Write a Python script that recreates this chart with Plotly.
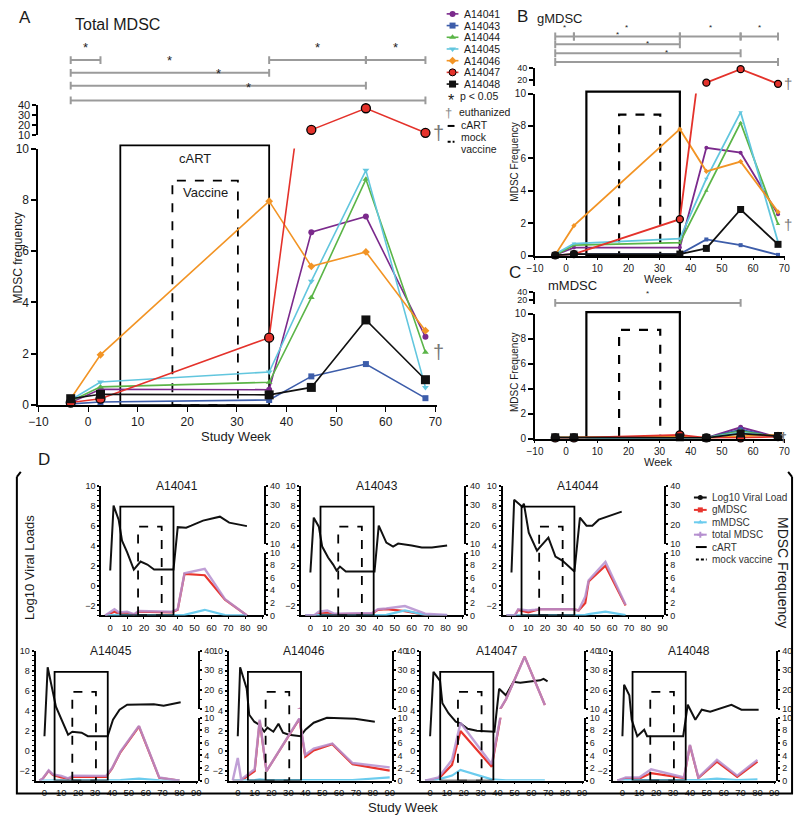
import plotly.graph_objects as go

W, H = 800, 823
FONT = "Liberation Sans, Arial, Helvetica, sans-serif"


def fx(x):
    return x / W


def fy(y):
    return 1 - y / H


# ====================== DATA : panels A-C ======================
WEEKS = [-3.5, 2.5, 36.5, 45, 56, 68]
ANIMALS = ["A14041", "A14043", "A14044", "A14045", "A14046", "A14047", "A14048"]

# total MDSC (panel A)
TOTAL_A14041 = [0.10, 0.62, 0.60, 6.74, 7.35, 2.66]
TOTAL_A14043 = [0.05, 0.12, 0.20, 1.12, 1.60, 0.27]
TOTAL_A14044 = [0.15, 0.71, 0.89, 4.19, 8.80, 2.06]
TOTAL_A14045 = [0.20, 0.90, 1.29, 4.83, 9.15, 0.69]
TOTAL_A14046 = [0.25, 1.96, 7.95, 5.41, 5.97, 2.90]
TOTAL_A14047 = [0.10, 0.25, 2.63, 15.0, 37.0, 12.0]
TOTAL_A14048 = [0.25, 0.42, 0.40, 0.69, 3.32, 0.99]

# gMDSC (panel B)
GMDSC_A14041 = [0.05, 0.50, 0.50, 6.65, 6.35, 2.55]
GMDSC_A14043 = [0.02, 0.10, 0.10, 1.00, 0.65, 0.05]
GMDSC_A14044 = [0.05, 0.65, 0.80, 4.00, 8.20, 1.95]
GMDSC_A14045 = [0.10, 0.75, 1.05, 4.75, 8.85, 0.85]
GMDSC_A14046 = [0.05, 1.85, 7.80, 5.20, 5.80, 2.70]
GMDSC_A14047 = [0.02, 0.10, 2.25, 15.0, 38.0, 13.0]
GMDSC_A14048 = [0.02, 0.10, 0.10, 0.45, 2.85, 0.70]

# mMDSC (panel C)
MMDSC_A14041 = [0.05, 0.05, 0.05, 0.05, 0.90, 0.10]
MMDSC_A14043 = [0.02, 0.02, 0.05, 0.05, 0.70, 0.10]
MMDSC_A14044 = [0.05, 0.05, 0.10, 0.05, 0.60, 0.10]
MMDSC_A14045 = [0.05, 0.05, 0.10, 0.05, 0.50, 0.10]
MMDSC_A14046 = [0.10, 0.10, 0.15, 0.05, 0.20, 0.30]
MMDSC_A14047 = [0.05, 0.05, 0.30, 0.05, 0.05, 0.15]
MMDSC_A14048 = [0.10, 0.10, 0.10, 0.05, 0.40, 0.20]

CART_WEEKS = [6.5, 36.5]
VACCINE_WEEKS = [17, 30.2]
EUTHANIZED = ["A14044", "A14047"]

# significance comparisons (start week, end week, row)
SIG_A = [(-3.5, 2.5, 0), (36.5, 56, 0), (56, 68, 0), (-3.5, 36.5, 1), (-3.5, 56, 2), (-3.5, 68, 3)]
SIG_B = [(-3.5, 2.5, 0), (2.5, 36.5, 0), (36.5, 56, 0), (56, 68, 0),
         (-3.5, 36.5, 1), (-3.5, 56, 2), (-3.5, 68, 3)]
SIG_C = [(-3.5, 56, 0)]

X_TICKS_ABC = [-10, 0, 10, 20, 30, 40, 50, 60, 70]

# ====================== DATA : panel D ======================
VL_WEEK_A14041 = [0, 2, 5, 7, 10, 14, 18, 22, 26, 37.5, 40, 45, 48, 55, 65, 70.5, 81]
VL_A14041 = [1.5, 8.0, 6.6, 4.5, 3.35, 1.6, 2.4, 2.1, 1.6, 1.6, 5.85, 5.8, 6.0, 6.5, 6.9, 6.3, 5.95]
MD_WEEK_A14041 = [-3, 2.5, 5, 10, 14, 17, 36.5, 40, 44, 56, 68, 81]
T_A14041 = [0, 1.0, 0.5, 0.6, 0.2, 0.7, 0.6, 1.0, 6.7, 7.4, 2.6, 0.0]
G_A14041 = [0, 0.6, 0.3, 0.4, 0.1, 0.6, 0.5, 0.9, 6.6, 6.4, 2.5, 0.0]
M_A14041 = [0, 0.1, 0.1, 0.1, 0.05, 0.05, 0.05, 0.05, 0.1, 0.9, 0.05, 0.0]

VL_WEEK_A14043 = [0, 2, 5, 7, 10.5, 13.5, 15.5, 17.5, 21, 38, 40.5, 45, 49, 52, 60, 66, 72, 81]
VL_A14043 = [1.3, 6.8, 5.9, 3.9, 2.8, 2.1, 1.5, 1.9, 1.4, 1.4, 6.0, 4.3, 3.9, 4.2, 4.0, 3.8, 3.8, 4.0]
MD_WEEK_A14043 = [-3, 2.5, 5, 10, 14, 17, 36.5, 40, 45, 56, 68, 81]
T_A14043 = [0, 0.1, 0.6, 0.8, 0.3, 0.3, 0.4, 1.0, 1.1, 1.5, 0.3, 0.1]
G_A14043 = [0, 0.05, 0.3, 0.4, 0.1, 0.2, 0.3, 0.9, 1.0, 0.7, 0.1, 0.05]
M_A14043 = [0, 0.05, 0.1, 0.1, 0.05, 0.05, 0.05, 0.1, 0.1, 0.8, 0.1, 0.05]

VL_WEEK_A14044 = [0, 1.6, 6.4, 7.4, 10.3, 15.2, 16.7, 22, 26.2, 30.3, 37.5, 40.8, 44.7, 48.2, 52, 65.7]
VL_A14044 = [1.3, 8.6, 7.9, 8.2, 5.3, 3.5, 3.8, 4.8, 2.9, 2.5, 1.4, 6.8, 6.0, 6.0, 6.6, 7.4]
MD_WEEK_A14044 = [-3, 2, 4, 10, 14, 17, 36.5, 40, 44, 46, 56, 68]
T_A14044 = [0, 0.05, 1.0, 0.8, 0.9, 1.0, 1.0, 0.8, 3.0, 5.6, 8.5, 1.7]
G_A14044 = [0, 0.0, 0.9, 0.5, 0.8, 1.0, 1.0, 0.8, 2.0, 5.4, 7.9, 1.6]
M_A14044 = [0, 0.02, 0.05, 0.05, 0.05, 0.05, 0.05, 0.05, 0.1, 0.2, 0.6, 0.05]

VL_WEEK_A14045 = [0, 1.9, 6.8, 14, 16.5, 22, 25.7, 37.4, 40.6, 44.5, 49, 64.8, 70.6, 80.7]
VL_A14045 = [1.45, 8.35, 4.4, 1.6, 1.9, 1.8, 1.45, 1.45, 3.1, 4.1, 4.6, 4.65, 4.5, 4.85]
MD_WEEK_A14045 = [-3, -1, 2.5, 5, 10, 14, 17, 36.5, 40, 45, 56, 68, 80]
T_A14045 = [0, 0.35, 1.65, 1.0, 0.75, 0.35, 0.8, 0.75, 1.95, 4.6, 8.7, 0.5, 0.0]
G_A14045 = [0, 0.3, 1.55, 0.9, 0.5, 0.3, 0.6, 0.6, 1.9, 4.5, 8.6, 0.45, 0.0]
M_A14045 = [0, 0.02, 0.05, 0.05, 0.05, 0.02, 0.05, 0.05, 0.05, 0.1, 0.3, 0.05, 0.0]

VL_WEEK_A14046 = [0, 1.4, 5.3, 6.8, 9.8, 12.7, 15.7, 17.6, 21.1, 24.1, 26.8, 30.3, 37.2, 40.1, 45, 52.8, 69.5, 81.2]
VL_A14046 = [1.45, 8.35, 6.2, 3.6, 2.9, 2.6, 1.9, 2.3, 1.9, 2.7, 1.8, 1.6, 1.45, 2.1, 2.8, 3.3, 3.2, 2.9]
MD_WEEK_A14046 = [-3, 0, 2, 10, 13, 17, 36.5, 40, 45, 56, 68, 90]
T_A14046 = [0, 3.6, 0.2, 1.8, 9.7, 1.5, 9.9, 4.1, 5.1, 5.9, 2.8, 2.1]
G_A14046 = [0, 0.0, 0.0, 1.5, 9.5, 1.5, 9.8, 3.8, 4.8, 5.8, 2.6, 1.6]
M_A14046 = [0, 0.1, 0.05, 0.1, 0.2, 0.1, 0.1, 0.2, 0.1, 0.1, 0.1, 0.5]

VL_WEEK_A14047 = [0, 2, 5.9, 7.3, 10.9, 15.2, 17.8, 22.3, 27.7, 38.1, 40.9, 44.9, 49.4, 53.4, 65.2, 67.2, 69.6]
VL_A14047 = [1.45, 7.9, 7.0, 4.75, 3.75, 2.9, 2.75, 2.2, 2.0, 1.9, 6.2, 5.55, 6.9, 6.8, 7.05, 7.2, 6.95]
MD_WEEK_A14047 = [-3, 2, 5, 13, 18, 36.5, 45, 56, 68]
T_A14047 = [0, 0.25, 0.5, 3.3, 9.2, 2.6, 15, 37, 12]
G_A14047 = [0, 0.1, 0.3, 2.5, 7.9, 2.2, 15, 37, 12]
M_A14047 = [0, 0.05, 0.2, 0.8, 1.7, 0.2, 0.05, 0.05, 0.05]

VL_WEEK_A14048 = [0, 1, 4.1, 5.5, 8.8, 12.9, 14.6, 36, 38.7, 43.2, 47, 52, 64.6, 70.5, 80.7]
VL_A14048 = [1.45, 6.6, 5.55, 3.1, 1.45, 2.1, 1.45, 1.45, 4.6, 3.1, 4.1, 3.9, 4.6, 4.1, 4.1]
MD_WEEK_A14048 = [-3, 2, 10, 17, 36.5, 40, 45, 56, 68, 80]
T_A14048 = [0, 0.5, 0.5, 1.8, 0.5, 5.7, 0.5, 3.3, 0.8, 3.3]
G_A14048 = [0, 0.3, 0.3, 1.2, 0.4, 5.6, 0.4, 3.0, 0.6, 3.0]
M_A14048 = [0, 0.1, 0.1, 0.1, 0.1, 0.1, 0.1, 0.3, 0.1, 0.2]

CART_WEEKS_D = [6, 37.5]
VACCINE_WEEKS_D = [16.5, 30.5]
X_TICKS_D = [0, 10, 20, 30, 40, 50, 60, 70, 80, 90]

# ---------------- tables built from the named lists ----------------
TOTAL = dict(zip(ANIMALS, [TOTAL_A14041, TOTAL_A14043, TOTAL_A14044, TOTAL_A14045,
                           TOTAL_A14046, TOTAL_A14047, TOTAL_A14048]))
GMDSC = dict(zip(ANIMALS, [GMDSC_A14041, GMDSC_A14043, GMDSC_A14044, GMDSC_A14045,
                           GMDSC_A14046, GMDSC_A14047, GMDSC_A14048]))
MMDSC = dict(zip(ANIMALS, [MMDSC_A14041, MMDSC_A14043, MMDSC_A14044, MMDSC_A14045,
                           MMDSC_A14046, MMDSC_A14047, MMDSC_A14048]))
D_DATA = {
    "A14041": (VL_WEEK_A14041, VL_A14041, MD_WEEK_A14041, G_A14041, M_A14041, T_A14041),
    "A14043": (VL_WEEK_A14043, VL_A14043, MD_WEEK_A14043, G_A14043, M_A14043, T_A14043),
    "A14044": (VL_WEEK_A14044, VL_A14044, MD_WEEK_A14044, G_A14044, M_A14044, T_A14044),
    "A14045": (VL_WEEK_A14045, VL_A14045, MD_WEEK_A14045, G_A14045, M_A14045, T_A14045),
    "A14046": (VL_WEEK_A14046, VL_A14046, MD_WEEK_A14046, G_A14046, M_A14046, T_A14046),
    "A14047": (VL_WEEK_A14047, VL_A14047, MD_WEEK_A14047, G_A14047, M_A14047, T_A14047),
    "A14048": (VL_WEEK_A14048, VL_A14048, MD_WEEK_A14048, G_A14048, M_A14048, T_A14048),
}

# ---------------- styles ----------------
COLORS = {"A14041": "#7b2a8c", "A14043": "#3d5daa", "A14044": "#5bb548", "A14045": "#62c6de",
          "A14046": "#f29425", "A14047": "#e4322b", "A14048": "#111111"}
SYMBOLS = {"A14041": "circle", "A14043": "square", "A14044": "triangle-up", "A14045": "triangle-down",
           "A14046": "diamond", "A14047": "circle", "A14048": "square"}
C_VL, C_G, C_M, C_T = "#111111", "#e8352e", "#6cccee", "#b58fcf"
GRAY = "#9b9b9b"

layout = dict(width=W, height=H, margin=dict(l=0, r=0, t=0, b=0), paper_bgcolor="white",
              plot_bgcolor="rgba(0,0,0,0)", showlegend=False,
              font=dict(family=FONT, color="#1a1a1a", size=11))
traces, shapes, annotations = [], [], []
counters = {"x": 0, "y": 0}


def new_axis(kind):
    counters[kind] += 1
    return counters[kind]


def aname(kind, n):
    return f"{kind}axis" if n == 1 else f"{kind}axis{n}"


def aref(kind, n):
    return kind if n == 1 else f"{kind}{n}"


def axis_common(lw, ticklen, size):
    return dict(showgrid=False, zeroline=False, showline=True, linecolor="black", linewidth=lw,
                ticks="outside", ticklen=ticklen, tickwidth=max(1, lw - 0.5), tickcolor="black",
                tickfont=dict(size=size, family=FONT, color="#1a1a1a"), fixedrange=True)


def make_x(n, anchor, L, R, rng, tickvals, size=12, lw=1.5, ticklen=5):
    d = axis_common(lw, ticklen, size)
    d.update(domain=[fx(L), fx(R)], range=rng, anchor=anchor, tickvals=tickvals)
    layout[aname("x", n)] = d


def make_y(n, anchor, bottom, top, rng, tickvals, size=12, lw=2, ticklen=5, side="left", minor=None):
    d = axis_common(lw, ticklen, size)
    d.update(domain=[fy(bottom), fy(top)], range=rng, anchor=anchor, tickvals=tickvals, side=side)
    if minor:
        d["minor"] = dict(dtick=minor, ticks="outside", ticklen=2, tickcolor="black", tickwidth=1, showgrid=False)
    layout[aname("y", n)] = d


def text(x, y, s, size=11, xanchor="left", yanchor="middle", color="#1a1a1a", angle=0,
         xref="paper", yref="paper", xshift=0, yshift=0):
    annotations.append(dict(x=x, y=y, text=s, showarrow=False, xref=xref, yref=yref,
                            xanchor=xanchor, yanchor=yanchor, textangle=angle, xshift=xshift, yshift=yshift,
                            font=dict(size=size, family=FONT, color=color)))


# ===================== overlay pixel axis (legend glyphs) =====================
PXN = new_axis("x")
PYN = new_axis("y")
layout[aname("x", PXN)] = dict(domain=[0, 1], range=[0, W], visible=False, fixedrange=True, anchor=aref("y", PYN))
layout[aname("y", PYN)] = dict(domain=[0, 1], range=[H, 0], visible=False, fixedrange=True, anchor=aref("x", PXN))
PX, PY = aref("x", PXN), aref("y", PYN)


# ===================== panels A / B / C =====================
def broken_panel(values, L, R, bottom, top, up_bottom, up_top, up_ticks, tick_size, msize, lw,
                 sig, sig_rows, star_size, cart_top_frac, vac_top, box_lw, dagger_shift, dagger_size, xticklen):
    xn = new_axis("x")
    yn = new_axis("y")
    yun = new_axis("y")
    xr, yr, yur = aref("x", xn), aref("y", yn), aref("y", yun)
    make_x(xn, yr, L, R, [-10, 70.3], X_TICKS_ABC, size=tick_size, lw=1.5, ticklen=xticklen)
    make_y(yn, xr, bottom, top, [0, 10], [0, 2, 4, 6, 8, 10], size=tick_size, lw=2)
    make_y(yun, xr, up_bottom, up_top, [10, 40], up_ticks, size=tick_size - 1, lw=2, ticklen=4)
    # make sure the upper (broken) segment is always rendered
    traces.append(go.Scatter(x=[], y=[], xaxis=xr, yaxis=yur, mode="lines", hoverinfo="skip"))

    # treatment boxes
    shapes.append(dict(type="rect", xref=xr, yref=yr + " domain", x0=CART_WEEKS[0], x1=CART_WEEKS[1],
                       y0=0, y1=cart_top_frac, line=dict(color="black", width=box_lw), layer="below"))
    shapes.append(dict(type="rect", xref=xr, yref=yr, x0=VACCINE_WEEKS[0], x1=VACCINE_WEEKS[1],
                       y0=0, y1=vac_top, line=dict(color="black", width=box_lw, dash="dash"), layer="below"))

    for a in ANIMALS:
        v = values[a]
        col = COLORS[a]
        big = a in ("A14047", "A14048")
        edge = "black" if a == "A14047" else col
        ms = msize + (3 if big else 0)
        traces.append(go.Scatter(x=WEEKS, y=v, xaxis=xr, yaxis=yr, mode="lines",
                                 line=dict(color=col, width=lw), hoverinfo="skip"))
        lo = [(w, y) for w, y in zip(WEEKS, v) if y <= 10]
        traces.append(go.Scatter(x=[p[0] for p in lo], y=[p[1] for p in lo], xaxis=xr, yaxis=yr,
                                 mode="markers", cliponaxis=False, hoverinfo="skip",
                                 marker=dict(symbol=SYMBOLS[a], size=ms, color=col,
                                             line=dict(color=edge, width=1.3 if a == "A14047" else 0))))
        hi = [(w, y) for w, y in zip(WEEKS, v) if y >= 10]
        if hi:
            traces.append(go.Scatter(x=[p[0] for p in hi], y=[p[1] for p in hi], xaxis=xr, yaxis=yur,
                                     mode="lines+markers", cliponaxis=False, hoverinfo="skip",
                                     line=dict(color=col, width=lw),
                                     marker=dict(symbol=SYMBOLS[a], size=ms, color=col,
                                                 line=dict(color=edge, width=1.3))))
        if a in EUTHANIZED:
            last = v[-1]
            text(WEEKS[-1], last, "†", size=dagger_size, xanchor="center", color="#777",
                 xref=xr, yref=yur if last > 10 else yr, xshift=dagger_shift)

    # significance bars
    for (w0, w1, row) in sig:
        yb = sig_rows[row]
        shapes.append(dict(type="line", xref=xr, yref="paper", x0=w0, x1=w1, y0=fy(yb), y1=fy(yb),
                           line=dict(color=GRAY, width=2)))
        for w in (w0, w1):
            shapes.append(dict(type="line", xref=xr, yref="paper", x0=w, x1=w, y0=fy(yb - 4), y1=fy(yb + 4),
                               line=dict(color=GRAY, width=2)))
        text((w0 + w1) / 2, fy(yb - 3), "*", size=star_size, xanchor="center", yanchor="bottom",
             xref=xr, color="#222")
    return xr, yr


# Panel A
xa, ya = broken_panel(TOTAL, 29, 435, 405, 144, 130, 100, [10, 20, 30, 40], 12, 6, 1.6,
                      SIG_A, [54, 67, 80, 95], 13, 1.012, 8.75, 1.8, 13, 20, 5)
text(CART_WEEKS[0] / 2 + CART_WEEKS[1] / 2, 9.6, "cART", size=13, xanchor="center", xref=xa, yref=ya)
text(VACCINE_WEEKS[0] / 2 + VACCINE_WEEKS[1] / 2, 8.3, "Vaccine", size=13, xanchor="center", xref=xa, yref=ya)
text(fx(7), fy(11), "A", size=17)
text(fx(64), fy(18), "Total MDSC", size=16)
text(fx(8), fy(255), "MDSC frequency", size=12, xanchor="center", angle=-90)
text(fx(230), fy(437), "Study Week", size=13, xanchor="center")

# Panel B
xb, yb = broken_panel(GMDSC, 535, 790, 253, 88, 80, 62, [20, 40], 10, 4, 1.8,
                      SIG_B, [30, 38, 47, 56], 8, 1.012, 8.7, 2.2, 10, 15, 3)
text(fx(515), fy(10), "B", size=17)
text(fx(535), fy(12), "gMDSC", size=13)
text(fx(514), fy(158), "MDSC Frequency", size=10, xanchor="center", angle=-90)
text(fx(660), fy(277), "Week", size=11, xanchor="center")

# Panel C
xc, yc = broken_panel(MMDSC, 535, 790, 439, 312, 302, 290, [20, 40], 10, 5, 1.8,
                      SIG_C, [301], 8, 1.012, 8.7, 2.2, 5, 12, 3)
text(fx(506), fy(270), "C", size=17)
text(fx(546), fy(283), "mMDSC", size=13)
text(fx(514), fy(372), "MDSC Frequency", size=10, xanchor="center", angle=-90)
text(fx(660), fy(463), "Week", size=11, xanchor="center")

# ----- legend of panels A-C -----
for i, a in enumerate(ANIMALS):
    yrow = 7 + i * 11.9
    col = COLORS[a]
    traces.append(go.Scatter(x=[445, 457], y=[yrow, yrow], xaxis=PX, yaxis=PY, mode="lines",
                             line=dict(color=col, width=1.6), hoverinfo="skip", cliponaxis=False))
    traces.append(go.Scatter(x=[451], y=[yrow], xaxis=PX, yaxis=PY, mode="markers", cliponaxis=False,
                             hoverinfo="skip",
                             marker=dict(symbol=SYMBOLS[a], size=6 if a not in ("A14047", "A14048") else 7,
                                         color=col, line=dict(color="black" if a == "A14047" else col,
                                                              width=1 if a == "A14047" else 0))))
    text(fx(461), fy(yrow), a, size=10.5)
text(fx(449), fy(95), "*", size=16, xanchor="center")
text(fx(457), fy(91), "p < 0.05", size=10.5)
text(fx(447), fy(107), "†", size=13, xanchor="center", color="#888")
text(fx(456), fy(107), "euthanized", size=10.5)
traces.append(go.Scatter(x=[446, 453], y=[121, 121], xaxis=PX, yaxis=PY, mode="lines",
                         line=dict(color="black", width=2), hoverinfo="skip", cliponaxis=False))
text(fx(458), fy(120), "cART", size=10.5)
traces.append(go.Scatter(x=[446, 453], y=[137, 137], xaxis=PX, yaxis=PY, mode="lines",
                         line=dict(color="black", width=2, dash="3px,2px"), hoverinfo="skip", cliponaxis=False))
text(fx(458), fy(132), "mock", size=10.5)
text(fx(458), fy(144), "vaccine", size=10.5)

# ===================== panel D =====================
D_PANELS = [("A14041", 93, 259, 0), ("A14043", 297, 463, 0), ("A14044", 502, 667, 0),
            ("A14045", 26, 192, 1), ("A14046", 223, 389, 1), ("A14047", 419, 585, 1), ("A14048", 615, 781, 1)]
ROW_TOP = [487, 655]
ROW_BOT = [619, 787]
DT = 9

for a, L, R, row in D_PANELS:
    top, bot = ROW_TOP[row], ROW_BOT[row]
    xn = new_axis("x")
    yln = new_axis("y")
    yrn = new_axis("y")
    yun = new_axis("y")
    xr, ylr, yrr, yur = aref("x", xn), aref("y", yln), aref("y", yrn), aref("y", yun)
    make_x(xn, ylr, L, R, [-5.3, 91.2], X_TICKS_D, size=DT + 0.5, lw=1.5, ticklen=2)
    make_y(yln, xr, bot, top, [-3, 10], [-2, 0, 2, 4, 6, 8, 10], size=DT, lw=2, ticklen=2, minor=0.5)
    make_y(yrn, xr, bot, bot - 64, [0, 10], [0, 2, 4, 6, 8, 10], size=DT, lw=2, ticklen=2, side="right", minor=1)
    make_y(yun, xr, bot - 73, top, [10, 40], [10, 20, 30, 40], size=DT, lw=2, ticklen=2, side="right", minor=5)

    vlw, vl, mdw, g, m, t = D_DATA[a]
    shapes.append(dict(type="rect", xref=xr, yref=ylr, x0=CART_WEEKS_D[0], x1=CART_WEEKS_D[1],
                       y0=-3, y1=7.9, line=dict(color="black", width=1.8)))
    shapes.append(dict(type="rect", xref=xr, yref=ylr, x0=VACCINE_WEEKS_D[0], x1=VACCINE_WEEKS_D[1],
                       y0=-3, y1=5.9, line=dict(color="black", width=1.8, dash="dash")))
    for series, col, op, lwid in ((g, C_G, 1.0, 2.2), (m, C_M, 1.0, 2.2), (t, C_T, 0.85, 2.4)):
        for yy in (yrr, yur):
            traces.append(go.Scatter(x=mdw, y=series, xaxis=xr, yaxis=yy, mode="lines", opacity=op,
                                     line=dict(color=col, width=lwid), hoverinfo="skip"))
    traces.append(go.Scatter(x=vlw, y=vl, xaxis=xr, yaxis=ylr, mode="lines",
                             line=dict(color=C_VL, width=2), hoverinfo="skip"))
    text(fx((L + R) / 2 - 6), fy(top), a, size=12, xanchor="center")

# frame of panel D
shapes.append(dict(type="path", xref="paper", yref="paper",
                   path=f"M {fx(7)},{fy(478)} L {fx(7)},{fy(800)} L {fx(797)},{fy(800)} L {fx(797)},{fy(478)}",
                   line=dict(color="black", width=2)))
shapes.append(dict(type="line", xref="paper", yref="paper", x0=fx(7), x1=fx(11), y0=fy(478), y1=fy(473),
                   line=dict(color="black", width=2)))
shapes.append(dict(type="line", xref="paper", yref="paper", x0=fx(797), x1=fx(793), y0=fy(478), y1=fy(473),
                   line=dict(color="black", width=2)))
text(fx(26), fy(460), "D", size=17)
text(fx(20), fy(570), "Log10 Viral Loads", size=13, xanchor="center", angle=-90)
text(fx(788), fy(575), "MDSC Frequency", size=14, xanchor="center", angle=90)
text(fx(400), fy(814), "Study Week", size=13, xanchor="center")

# legend of panel D
D_LEG = [("Log10 Viral Load", C_VL, "circle", "solid"), ("gMDSC", C_G, "square", "solid"),
         ("mMDSC", C_M, "triangle-up", "solid"), ("total MDSC", C_T, "cross", "solid"),
         ("cART", "black", None, "solid"), ("mock vaccine", "black", None, "dash")]
for i, (lab, col, sym, dash) in enumerate(D_LEG):
    yrow = 499 + i * 12.6
    x0 = 697 if sym else 699
    traces.append(go.Scatter(x=[x0, 710], y=[yrow, yrow], xaxis=PX, yaxis=PY, mode="lines",
                             line=dict(color=col, width=2, dash="3px,2px" if dash == "dash" else "solid"),
                             hoverinfo="skip", cliponaxis=False))
    if sym:
        traces.append(go.Scatter(x=[703.5], y=[yrow], xaxis=PX, yaxis=PY, mode="markers", cliponaxis=False,
                                 hoverinfo="skip", marker=dict(symbol=sym, size=5, color=col)))
    text(fx(713), fy(yrow), lab, size=10, color="#333")

layout["shapes"] = shapes
layout["annotations"] = annotations
fig = go.Figure(data=traces, layout=layout)
fig.write_html("out.html", config={"displayModeBar": False},
               post_script="document.body.style.margin='0';document.body.style.overflow='hidden';")
